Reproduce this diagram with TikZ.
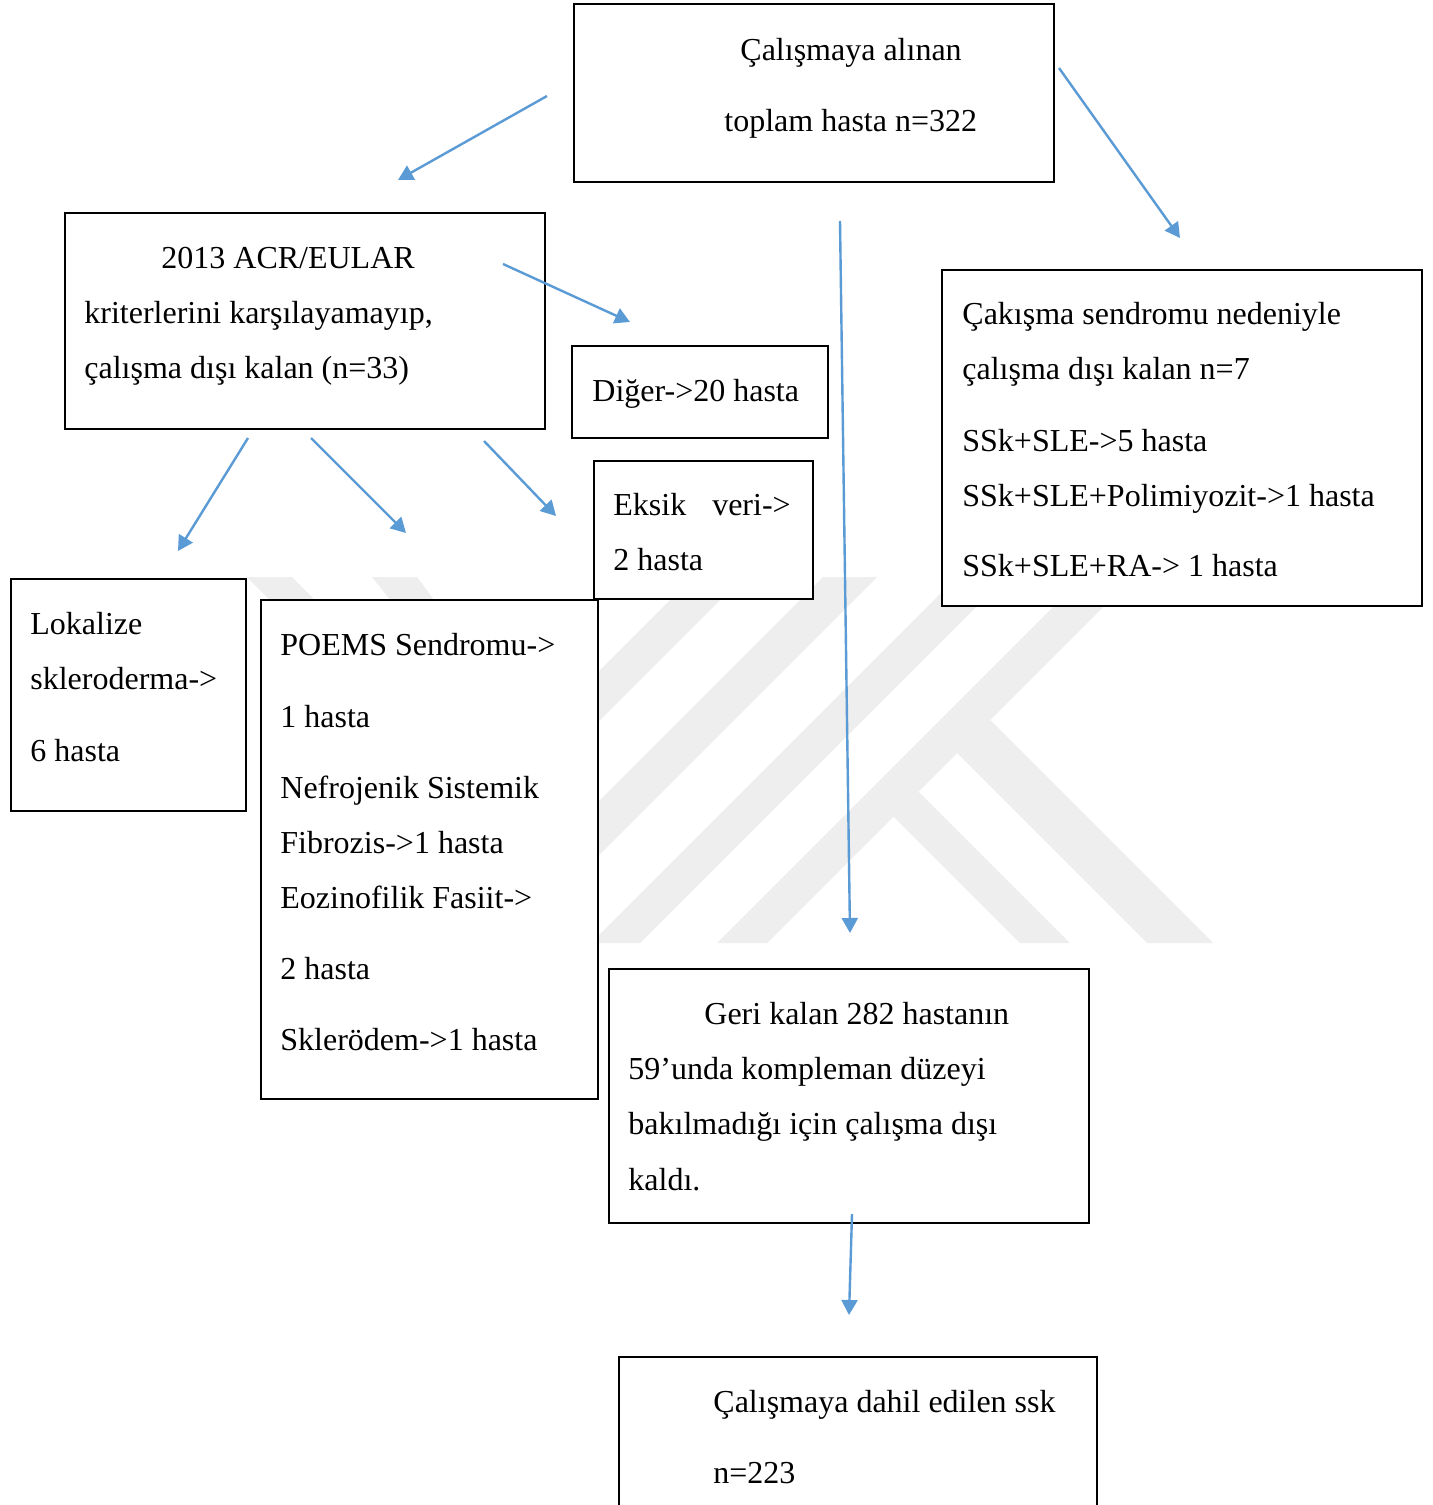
\documentclass[tikz,border=0pt]{standalone}
\usepackage{fontspec}
\setmainfont{Liberation Serif}
\usetikzlibrary{arrows.meta}
\definecolor{arrblue}{RGB}{91,155,213}
\definecolor{wmgray}{RGB}{238,238,238}
\begin{document}
\begin{tikzpicture}[x=0.5pt,y=-0.5pt,
  box/.style={draw=black, line width=1pt, fill=white, inner sep=0pt, anchor=north west},
  txt/.style={inner sep=0pt, anchor=base west, font=\fontsize{16}{19}\selectfont},
  arr/.style={draw=arrblue, line width=1.2pt, -{Triangle[width=8pt,length=7.5pt]}},
  wm/.style={fill=wmgray, draw=none}]
\useasboundingbox[fill=white] (0,0) rectangle (1432,1505);
% watermark
\fill[wm] (247,577) -- (292,577) -- (492.5,777.5) -- (693,577) -- (743,577) -- (495,825) -- cycle;
\fill[wm] (372,577) -- (417,577) -- (590,810) -- (823,577) -- (877,577) -- (595,859) -- cycle;
\fill[wm] (591,943) -- (640,943) -- (1006,577) -- (957,577) -- cycle;
\fill[wm] (717,943) -- (767,943) -- (1133,577) -- (1083,577) -- cycle;
\fill[wm] (918.5,791.5) -- (1070,943) -- (1020,943) -- (893.5,816.5) -- cycle;
\fill[wm] (990,720) -- (1213,943) -- (1147,943) -- (957,753) -- cycle;
% boxes
\node[box, minimum width=240pt, minimum height=89pt] (top) at (573,3) {};
\node[box, minimum width=240pt, minimum height=108pt] (acr) at (64,212) {};
\node[box, minimum width=240pt, minimum height=168pt] (cak) at (941,269) {};
\node[box, minimum width=128pt, minimum height=46pt] (diger) at (571,345) {};
\node[box, minimum width=109.5pt, minimum height=69pt] (eksik) at (593,460) {};
\node[box, minimum width=117.5pt, minimum height=116pt] (lok) at (10,578) {};
\node[box, minimum width=168.5pt, minimum height=249.5pt] (poems) at (260,599) {};
\node[box, minimum width=240pt, minimum height=127pt] (geri) at (608,968) {};
\node[box, minimum width=239pt, minimum height=90pt] (final) at (618,1356) {};
% texts
\node[txt] (t1) at (740,60) {Çalışmaya alınan};
\node[txt] (t2) at (724,131) {toplam hasta n=322};
\node[txt] (t3) at (161,268) {2013 ACR/EULAR};
\node[txt] (t4) at (84,323) {kriterlerini karşılayamayıp,};
\node[txt] (t5) at (84,378) {çalışma dışı kalan (n=33)};
\node[txt] (t6) at (962,324) {Çakışma sendromu nedeniyle};
\node[txt] (t7) at (962,379) {çalışma dışı kalan n=7};
\node[txt] (t8) at (962,451) {SSk+SLE->5 hasta};
\node[txt] (t9) at (962,506) {SSk+SLE+Polimiyozit->1 hasta};
\node[txt] (t10) at (962,576) {SSk+SLE+RA-> 1 hasta};
\node[txt] (t11) at (592,401) {Diğer->20 hasta};
\node[txt] (t12) at (613,515) {Eksik\hspace{13pt}veri->};
\node[txt] (t13) at (613,570) {2 hasta};
\node[txt] (t14) at (30,634) {Lokalize};
\node[txt] (t15) at (30,689) {skleroderma->};
\node[txt] (t16) at (30,761) {6 hasta};
\node[txt] (t17) at (280,655) {POEMS Sendromu->};
\node[txt] (t18) at (280,727) {1 hasta};
\node[txt] (t19) at (280,798) {Nefrojenik Sistemik};
\node[txt] (t20) at (280,853) {Fibrozis->1 hasta};
\node[txt] (t21) at (280,908) {Eozinofilik Fasiit->};
\node[txt] (t22) at (280,979) {2 hasta};
\node[txt] (t23) at (280,1050) {Sklerödem->1 hasta};
\node[txt] (t24) at (704,1024) {Geri kalan 282 hastanın};
\node[txt] (t25) at (628,1079) {59’unda kompleman düzeyi};
\node[txt] (t26) at (628,1134) {bakılmadığı için çalışma dışı};
\node[txt] (t27) at (628,1190) {kaldı.};
\node[txt] (t28) at (713,1412) {Çalışmaya dahil edilen ssk};
\node[txt] (t29) at (713,1483) {n=223};
% arrow end points
\coordinate (a1s) at (547,96);   \coordinate (a1e) at (398,180);
\coordinate (a2s) at (1059,68);  \coordinate (a2e) at (1180,238);
\coordinate (a3s) at (840,221);  \coordinate (a3e) at (850,933);
\coordinate (a4s) at (503,264);  \coordinate (a4e) at (630,322);
\coordinate (a5s) at (248,438);  \coordinate (a5e) at (178,551);
\coordinate (a6s) at (311,438);  \coordinate (a6e) at (406,533);
\coordinate (a7s) at (484,441);  \coordinate (a7e) at (556,516);
\coordinate (a8s) at (852,1214); \coordinate (a8e) at (849,1315);
\draw[arr] (a1s) -- (a1e);
\draw[arr] (a2s) -- (a2e);
\draw[arr] (a3s) -- (a3e);
\draw[arr] (a4s) -- (a4e);
\draw[arr] (a5s) -- (a5e);
\draw[arr] (a6s) -- (a6e);
\draw[arr] (a7s) -- (a7e);
\draw[arr] (a8s) -- (a8e);
\end{tikzpicture}
\end{document}
